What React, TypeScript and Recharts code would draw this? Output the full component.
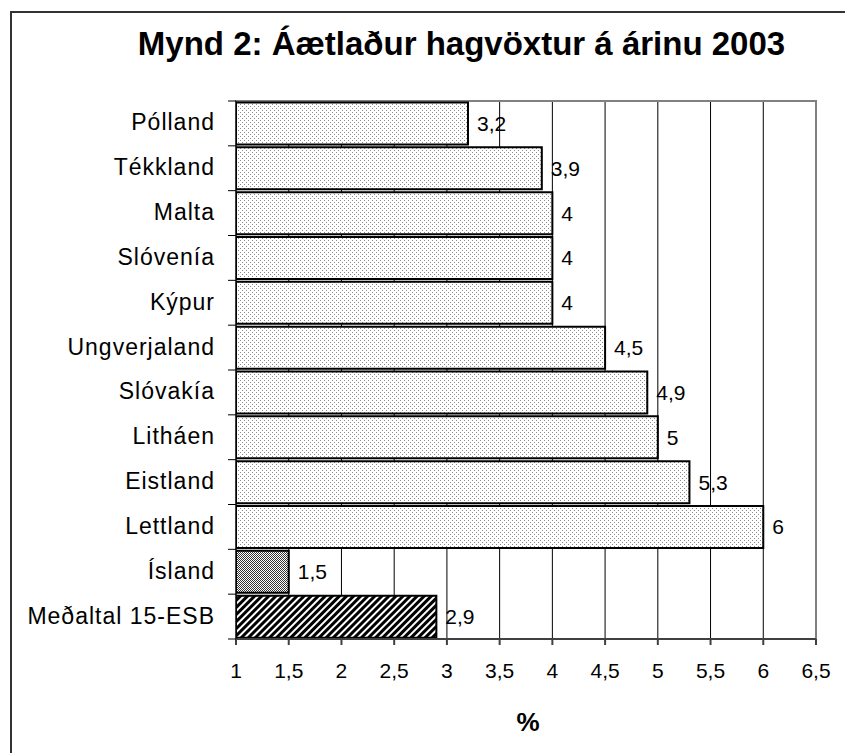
import React from 'react'
import {
  BarChart,
  Bar,
  XAxis,
  YAxis,
  CartesianGrid,
  Cell,
  LabelList,
  ReferenceArea,
} from 'recharts'

// Áætlaður hagvöxtur 2003, %
const countries = [
  'Pólland',
  'Tékkland',
  'Malta',
  'Slóvenía',
  'Kýpur',
  'Ungverjaland',
  'Slóvakía',
  'Litháen',
  'Eistland',
  'Lettland',
  'Ísland',
  'Meðaltal 15-ESB',
]
const growth = [3.2, 3.9, 4, 4, 4, 4.5, 4.9, 5, 5.3, 6, 1.5, 2.9]
const fills = [
  'dots', 'dots', 'dots', 'dots', 'dots', 'dots', 'dots', 'dots', 'dots', 'dots',
  'checker', 'hatch',
]
const xTicks = [1, 1.5, 2, 2.5, 3, 3.5, 4, 4.5, 5, 5.5, 6, 6.5]

const data = countries.map((name, i) => ({ name, value: growth[i], fill: fills[i] }))

const FONT = '"Liberation Sans", Arial, sans-serif'
const comma = (v: number) => String(v).replace('.', ',')

const CategoryTick = (props: any) => {
  const { x, y, payload, index } = props
  const half = payload?.offset ?? 0
  const axisX = x + 21
  return (
    <g>
      <text
        x={x}
        y={y}
        dy={7}
        textAnchor="end"
        fontSize={23}
        letterSpacing={1}
        fontFamily={FONT}
        fill="#000"
      >
        {payload.value}
      </text>
      <line x1={axisX - 8} x2={axisX} y1={y - half} y2={y - half} stroke="#000" strokeWidth={1} />
      {index === countries.length - 1 && (
        <line x1={axisX - 8} x2={axisX} y1={y + half} y2={y + half} stroke="#000" strokeWidth={1} />
      )}
    </g>
  )
}

export default function App() {
  return (
    <div
      style={{
        position: 'fixed',
        left: 0,
        top: 0,
        width: 845,
        height: 753,
        background: '#fff',
        overflow: 'hidden',
        fontFamily: FONT,
      }}
    >
      {/* chart frame, right/bottom edges run off the picture */}
      <div
        style={{
          position: 'absolute',
          left: 10,
          top: 11,
          width: 900,
          height: 800,
          border: '2px solid #333',
          boxSizing: 'border-box',
        }}
      />
      <div
        style={{
          position: 'absolute',
          left: 0,
          top: 25,
          width: 923,
          textAlign: 'center',
          fontSize: 33,
          fontWeight: 'bold',
          lineHeight: '38px',
        }}
      >
        Mynd 2: Áætlaður hagvöxtur á árinu 2003
      </div>
      <div
        style={{
          position: 'absolute',
          left: 428,
          width: 200,
          top: 707,
          textAlign: 'center',
          fontSize: 26,
          fontWeight: 'bold',
          lineHeight: '30px',
        }}
      >
        %
      </div>
      <div style={{ position: 'absolute', left: 0, top: 0 }}>
        <BarChart
          width={845}
          height={753}
          data={data}
          layout="vertical"
          barCategoryGap={1.5}
          margin={{ top: 101, right: 29, bottom: 54, left: 10 }}
        >
          <defs>
            <pattern id="dots" width="4" height="4" patternUnits="userSpaceOnUse">
              <rect width="4" height="4" fill="#fff" />
              <rect x="0" y="0" width="1" height="1" fill="#8a8a8a" />
              <rect x="2" y="2" width="1" height="1" fill="#8a8a8a" />
            </pattern>
            <pattern id="checker" width="2" height="2" patternUnits="userSpaceOnUse">
              <rect width="2" height="2" fill="#fff" />
              <rect x="0" y="0" width="1" height="1" fill="#333" />
              <rect x="1" y="1" width="1" height="1" fill="#333" />
            </pattern>
            <pattern
              id="hatch"
              width="5"
              height="5"
              patternUnits="userSpaceOnUse"
              patternTransform="rotate(45)"
            >
              <rect width="5" height="5" fill="#fff" />
              <rect x="0" y="0" width="3" height="5" fill="#000" />
            </pattern>
          </defs>
          <CartesianGrid horizontal={false} stroke="#000" strokeWidth={1} />
          <ReferenceArea x1={1} x2={6.5} fill="none" stroke="#808080" strokeWidth={2} />
          <XAxis
            type="number"
            domain={[1, 6.5]}
            ticks={xTicks}
            interval={0}
            allowDataOverflow
            height={60}
            tickSize={6}
            tickMargin={18}
            tickFormatter={comma}
            stroke="#404040"
            strokeWidth={2}
            tick={{ fontSize: 21, fill: '#000', fontFamily: FONT }}
          />
          <YAxis
            type="category"
            dataKey="name"
            width={226}
            tickLine={false}
            tickSize={0}
            tickMargin={21}
            interval={0}
            stroke="#000"
            strokeWidth={1}
            tick={<CategoryTick />}
          />
          <Bar dataKey="value" stroke="#000" strokeWidth={2} isAnimationActive={false}>
            {data.map(d => (
              <Cell key={d.name} fill={`url(#${d.fill})`} />
            ))}
            <LabelList
              dataKey="value"
              position="right"
              offset={9}
              formatter={(v: any) => comma(v)}
              style={{ fontSize: 21, fill: '#000', fontFamily: FONT }}
            />
          </Bar>
        </BarChart>
      </div>
    </div>
  )
}
